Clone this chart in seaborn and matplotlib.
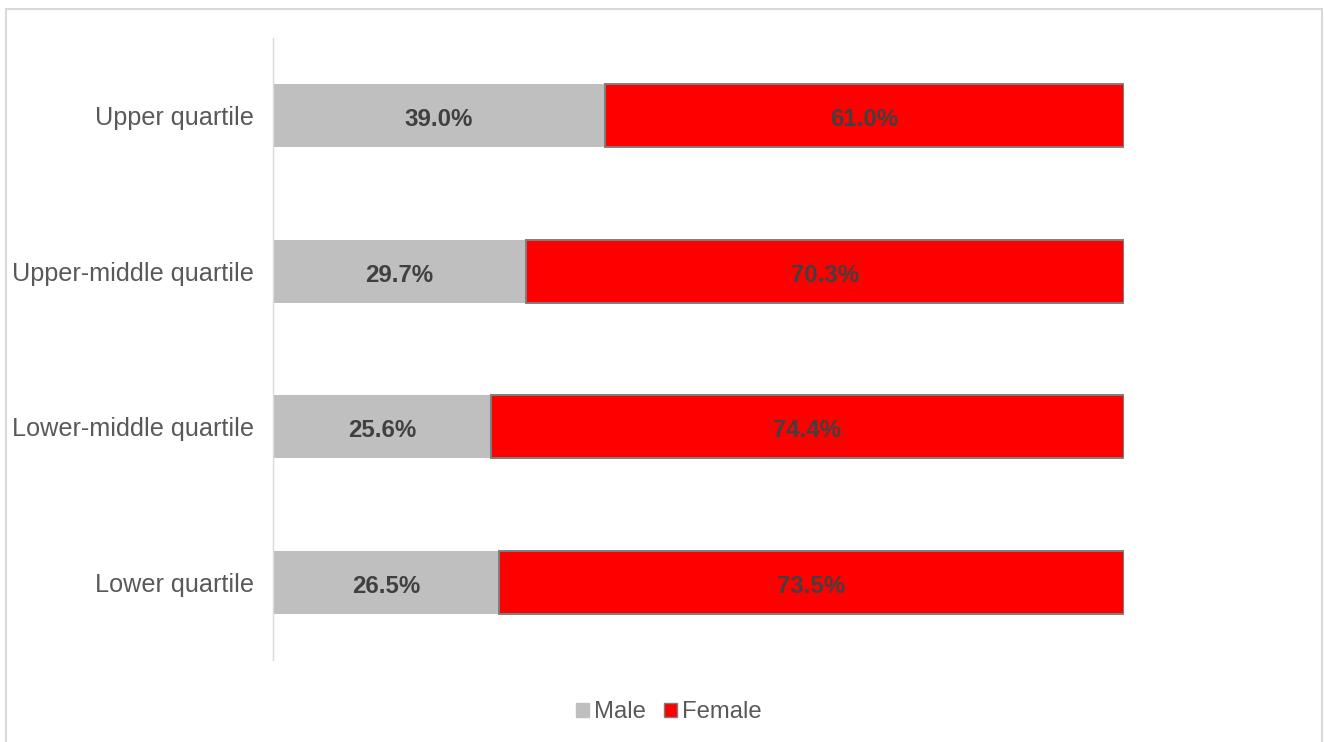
import matplotlib
matplotlib.use("Agg")
import matplotlib.pyplot as plt
from matplotlib.patches import Patch, Rectangle
import seaborn as sns
import pandas as pd

# data
quartiles = ["Upper quartile", "Upper-middle quartile", "Lower-middle quartile", "Lower quartile"]
male = [39.0, 29.7, 25.6, 26.5]
female = [61.0, 70.3, 74.4, 73.5]

df = pd.DataFrame({"quartile": quartiles, "Male": male, "Female": female})

sns.set_theme(style="white")
plt.rcParams["font.family"] = ["Liberation Sans", "DejaVu Sans"]

grey = "#BFBFBF"
red = "#FF0000"
edge = "#7F7F7F"

fig = plt.figure(figsize=(13.24, 7.42), dpi=100)
ax = fig.add_axes([273 / 1324, 1 - 660 / 742, 851 / 1324, 622 / 742])

# male segment via seaborn
sns.barplot(data=df, x="Male", y="quartile", order=quartiles, color=grey,
            width=0.405, saturation=1, ax=ax, linewidth=0)
# female segment stacked on the right
ax.barh(range(len(quartiles)), df["Female"], left=df["Male"], height=0.405,
        color=red, edgecolor=edge, linewidth=1.4)

for i, (m, f) in enumerate(zip(male, female)):
    ax.text(m / 2, i + 0.01, f"{m:.1f}%", ha="center", va="center_baseline",
            fontsize=17.3, fontweight="bold", color="#404040")
    ax.text(m + f / 2, i + 0.01, f"{f:.1f}%", ha="center", va="center_baseline",
            fontsize=17.3, fontweight="bold", color="#404040")

ax.set_xlim(0, 100)
ax.set_ylim(3.5, -0.5)
ax.set_xlabel("")
ax.set_ylabel("")
ax.set_xticks([])
ax.tick_params(axis="y", length=0, pad=14, labelsize=18.2, labelcolor="#595959")
for s in ["top", "right", "bottom"]:
    ax.spines[s].set_visible(False)
ax.spines["left"].set_color("#D9D9D9")
ax.spines["left"].set_linewidth(1.0)

handles = [Patch(facecolor=grey, edgecolor=grey, label="Male"),
           Patch(facecolor=red, edgecolor=edge, label="Female")]
fig.legend(handles=handles, loc="center", bbox_to_anchor=(0.505, 0.04), ncol=2,
           frameon=False, fontsize=17.2, labelcolor="#595959",
           handlelength=0.55, handleheight=0.55, handletextpad=0.2,
           columnspacing=0.75)

# outer chart border
fig.patches.append(Rectangle((6 / 1324, -0.02), 1316 / 1324, 1 - 9 / 742 + 0.02,
                             transform=fig.transFigure, fill=False,
                             edgecolor="#D9D9D9", linewidth=1.5))

fig.savefig("out.png", dpi=100)
